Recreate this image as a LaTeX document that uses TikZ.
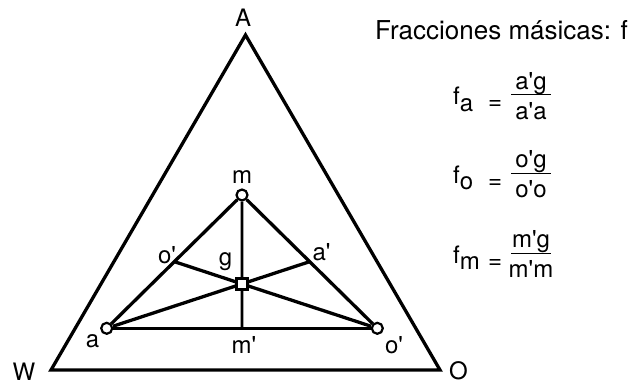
\documentclass[tikz,border=0pt]{standalone}
\usepackage{fontspec}
\setmainfont{TeX Gyre Heros}[Ligatures=TeXOff]
\usetikzlibrary{calc}
\tikzset{
  lbl/.style={font=\fontsize{24}{28}\selectfont, inner sep=0pt, anchor=base},
  vtx/.style={circle, draw, fill=white, line width=2.2pt, minimum size=11pt, inner sep=0pt},
  cg/.style={rectangle, draw, fill=white, line width=2.2pt, minimum size=11pt, inner sep=0pt},
  lado/.style={line width=3.3pt},
  barra/.style={line width=1pt}
}
\begin{document}
\begin{tikzpicture}[x=1pt,y=-1pt]
  \useasboundingbox (0,0) rectangle (628,385);
  % Triangulo exterior
  \coordinate (W) at (51,370);
  \coordinate (O) at (440,370);
  \coordinate (A) at (245.5,35);
  \draw[lado] (W) -- (O) -- (A) -- cycle;
  \node[lbl] (lA) at (243,27) {A};
  \node[lbl] (lW) at (24,380) {W};
  \node[lbl] (lO) at (458.5,379) {O};
  % Mezclas a, o, m y centro g
  \node[vtx] (a) at (106.7,328.3) {};
  \node[vtx] (o) at (377.3,328.3) {};
  \node[vtx] (m) at (242,195) {};
  \node[cg] (g) at (242,283.9) {};
  % Puntos medios
  \coordinate (op) at ($(m)!0.5!(a)$);
  \coordinate (ap) at ($(m)!0.5!(o)$);
  \coordinate (mp) at ($(a)!0.5!(o)$);
  % Lados y medianas
  \draw[lado] (a) -- (o);
  \draw[lado] (a) -- (m);
  \draw[lado] (m) -- (o);
  \draw[lado] (a) -- (g) -- (ap);
  \draw[lado] (o) -- (g) -- (op);
  \draw[line width=2.6pt] (m) -- (g) -- (mp);
  % Etiquetas
  \node[lbl] (lm) at (242,183) {m};
  \node[lbl] (la) at (92.5,347) {a};
  \node[lbl] (lo) at (394,353) {o'};
  \node[lbl] (lop) at (167,263) {o'};
  \node[lbl] (lg) at (225.5,265) {g};
  \node[lbl] (lap) at (321.5,260) {a'};
  \node[lbl] (lmp) at (244,353) {m'};
  % Fracciones masicas
  \node[lbl, anchor=base west, font=\fontsize{26}{30}\selectfont] (tit) at (375,40) {Fracciones másicas: f};
  % f_a
  \node[lbl, anchor=base west] (fa) at (453,105) {f\lower6pt\hbox{a}};
  \node[lbl] (eqa) at (495,110) {=};
  \node[lbl] (numa) at (531,89) {a'g};
  \node[lbl] (dena) at (531,119) {a'a};
  \draw[barra] (511,95) -- (551,95);
  % f_o
  \node[lbl, anchor=base west] (fo) at (453,183.5) {f\lower6pt\hbox{o}};
  \node[lbl] (eqo) at (495,188.5) {=};
  \node[lbl] (numo) at (531,167.5) {o'g};
  \node[lbl] (deno) at (531,197.5) {o'o};
  \draw[barra] (511,173.5) -- (551,173.5);
  % f_m
  \node[lbl, anchor=base west] (fm) at (453,263.5) {f\lower6pt\hbox{m}};
  \node[lbl] (eqm) at (495,268.5) {=};
  \node[lbl] (numm) at (531,247.5) {m'g};
  \node[lbl] (denm) at (531,277.5) {m'm};
  \draw[barra] (511,253.5) -- (551,253.5);
\end{tikzpicture}
\end{document}
